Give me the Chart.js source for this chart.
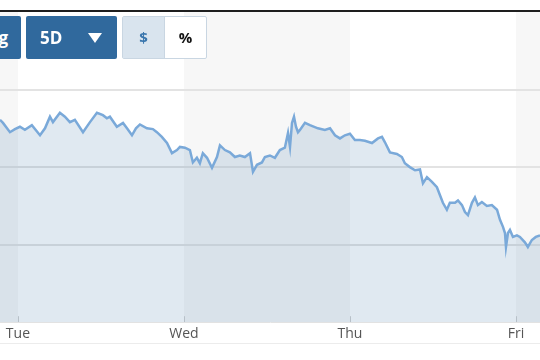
<!DOCTYPE html>
<html>
<head>
<meta charset="utf-8">
<script src="https://cdn.jsdelivr.net/npm/chart.js@4.4.1/dist/chart.umd.min.js"></script>
<style>
  body { margin: 0; background: #fff; font-family: "Open Sans", sans-serif; }
  #wrap { position: relative; width: 540px; height: 360px; overflow: hidden; }
  #wrap canvas { position: absolute; left: 0; top: 0; }
  .topline { position: absolute; left: 0; top: 10px; width: 540px; height: 2px; background: #1e1e1e; }
  .bottomline { position: absolute; left: 0; top: 343px; width: 540px; height: 1px; background: #ececec; }
  .btn { position: absolute; top: 16px; height: 43px; background: #30699d; color: #fff;
         font-weight: 700; font-size: 17px; line-height: 43px; border-radius: 2px; box-sizing: border-box; }
  .b1 { left: -60px; width: 81px; text-align: right; padding-right: 13px; }
  .b2 { left: 26px; width: 91px; padding-left: 14px; }
  .tri { position: absolute; left: 62px; top: 17px; width: 0; height: 0;
         border-left: 7px solid transparent; border-right: 7px solid transparent; border-top: 10px solid #fff; }
  .toggle { position: absolute; left: 122px; top: 16px; width: 85px; height: 43px; box-sizing: border-box;
            border: 1px solid #c9d6e2; border-radius: 2px; display: flex; background: #fff; }
  .toggle div { width: 50%; text-align: center; line-height: 41px; font-weight: 700; font-size: 15px; }
  .toggle .on { background: #d9e4ee; color: #3a76ad; border-right: 1px solid #c9d6e2; }
  .toggle .off { color: #111; }
</style>
</head>
<body>
<div id="wrap">
  <canvas id="chart" width="540" height="360"></canvas>
  <div class="topline"></div>
  <div class="bottomline"></div>
  <div class="btn b1">Log</div>
  <div class="btn b2">5D<span class="tri"></span></div>
  <div class="toggle"><div class="on">$</div><div class="off">%</div></div>
</div>
<script>
// x = fractional trading day (1 = Tue, 2 = Wed, ...), price
const dayLabels = ["Mon", "Tue", "Wed", "Thu", "Fri"];
const times = [
  0.892, 0.910, 0.952, 0.982, 1.012, 1.042, 1.084, 1.133, 1.163, 1.193, 1.211, 1.253,
  1.283, 1.313, 1.343, 1.392, 1.434, 1.476, 1.512, 1.536, 1.554, 1.596, 1.633, 1.657,
  1.687, 1.711, 1.735, 1.777, 1.813, 1.837, 1.867, 1.898, 1.928, 1.958, 1.976, 2.006,
  2.036, 2.054, 2.078, 2.096, 2.114, 2.139, 2.169, 2.199, 2.217, 2.247, 2.277, 2.307,
  2.337, 2.367, 2.398, 2.416, 2.440, 2.470, 2.488, 2.518, 2.548, 2.578, 2.608, 2.627,
  2.639, 2.651, 2.663, 2.675, 2.687, 2.699, 2.729, 2.759, 2.807, 2.849, 2.880, 2.910,
  2.940, 2.970, 3.000, 3.030, 3.060, 3.090, 3.133, 3.169, 3.193, 3.211, 3.241, 3.283,
  3.313, 3.331, 3.361, 3.392, 3.422, 3.440, 3.464, 3.494, 3.524, 3.542, 3.560, 3.584,
  3.602, 3.633, 3.651, 3.675, 3.693, 3.711, 3.735, 3.753, 3.771, 3.795, 3.825, 3.855,
  3.886, 3.904, 3.922, 3.934, 3.940, 3.952, 3.964, 3.982, 4.006, 4.024, 4.054, 4.072,
  4.096, 4.120, 4.145
];
const prices = [
  132.61, 132.57, 132.45, 132.49, 132.52, 132.48, 132.54, 132.41, 132.50, 132.65, 132.58, 132.70,
  132.65, 132.58, 132.61, 132.45, 132.58, 132.70, 132.67, 132.63, 132.65, 132.52, 132.57, 132.50,
  132.41, 132.50, 132.55, 132.50, 132.49, 132.45, 132.39, 132.31, 132.18, 132.22, 132.26, 132.25,
  132.22, 132.06, 132.12, 132.05, 132.18, 132.12, 131.99, 132.13, 132.28, 132.22, 132.19, 132.13,
  132.15, 132.13, 132.18, 131.94, 132.03, 132.06, 132.13, 132.15, 132.12, 132.22, 132.25, 132.44,
  132.26, 132.57, 132.65, 132.52, 132.45, 132.48, 132.57, 132.54, 132.50, 132.48, 132.50, 132.41,
  132.37, 132.41, 132.43, 132.35, 132.35, 132.34, 132.31, 132.37, 132.39, 132.32, 132.19, 132.17,
  132.13, 132.05, 132.00, 131.96, 131.97, 131.79, 131.87, 131.81, 131.74, 131.64, 131.54, 131.45,
  131.54, 131.54, 131.57, 131.51, 131.42, 131.38, 131.54, 131.61, 131.51, 131.55, 131.50, 131.51,
  131.45, 131.32, 131.23, 131.15, 130.97, 131.15, 131.19, 131.10, 131.12, 131.10, 131.03, 130.97,
  131.06, 131.10, 131.12
];
const priceMin = 130, priceMax = 134, gridStep = 1;

const dayBands = {
  id: "dayBands",
  beforeDraw(chart) {
    const { ctx, chartArea: a, scales: { x } } = chart;
    ctx.save();
    for (let d = 0; d < dayLabels.length; d++) {
      if (d % 2 === 1) continue;
      const l = Math.max(a.left, x.getPixelForValue(d));
      const r = Math.min(a.right, x.getPixelForValue(d + 1));
      if (r <= l) continue;
      ctx.fillStyle = "#f7f7f7";
      ctx.fillRect(l, a.top, r - l, a.bottom - a.top);
    }
    ctx.strokeStyle = "#cfcfcf";
    ctx.lineWidth = 1;
    for (let d = 1; d < dayLabels.length; d++) {
      const px = Math.round(x.getPixelForValue(d)) + 0.5;
      ctx.beginPath();
      ctx.moveTo(px, a.bottom - 6);
      ctx.lineTo(px, a.bottom);
      ctx.stroke();
    }
    ctx.restore();
  }
};

new Chart(document.getElementById("chart"), {
  type: "line",
  data: {
    datasets: [{
      data: times.map((t, i) => ({ x: t, y: prices[i] })),
      borderColor: "#7aa9d9",
      borderWidth: 2.5,
      backgroundColor: "rgba(44,110,160,0.15)",
      fill: "start",
      pointRadius: 0,
      tension: 0
    }]
  },
  options: {
    responsive: false,
    animation: false,
    layout: { padding: { top: 12, bottom: 15, left: 0, right: 0 } },
    plugins: { legend: { display: false }, tooltip: { enabled: false } },
    scales: {
      x: {
        type: "linear",
        min: times[0],
        max: times[times.length - 1],
        grid: { display: false, drawTicks: false },
        border: { display: true, color: "#e2e2e2", width: 1 },
        ticks: {
          stepSize: 1,
          includeBounds: false,
          autoSkip: false,
          maxRotation: 0,
          padding: 3,
          color: "#555",
          font: { family: "Open Sans", size: 14 },
          callback: v => dayLabels[v] || ""
        }
      },
      y: {
        min: priceMin,
        max: priceMax,
        ticks: { display: false, stepSize: gridStep },
        border: { display: false },
        grid: {
          drawTicks: false,
          lineWidth: 2,
          color: c => (c.tick.value > priceMin && c.tick.value < priceMax) ? "#e3e3e3" : "rgba(0,0,0,0)"
        }
      }
    }
  },
  plugins: [dayBands]
});
</script>
</body>
</html>
